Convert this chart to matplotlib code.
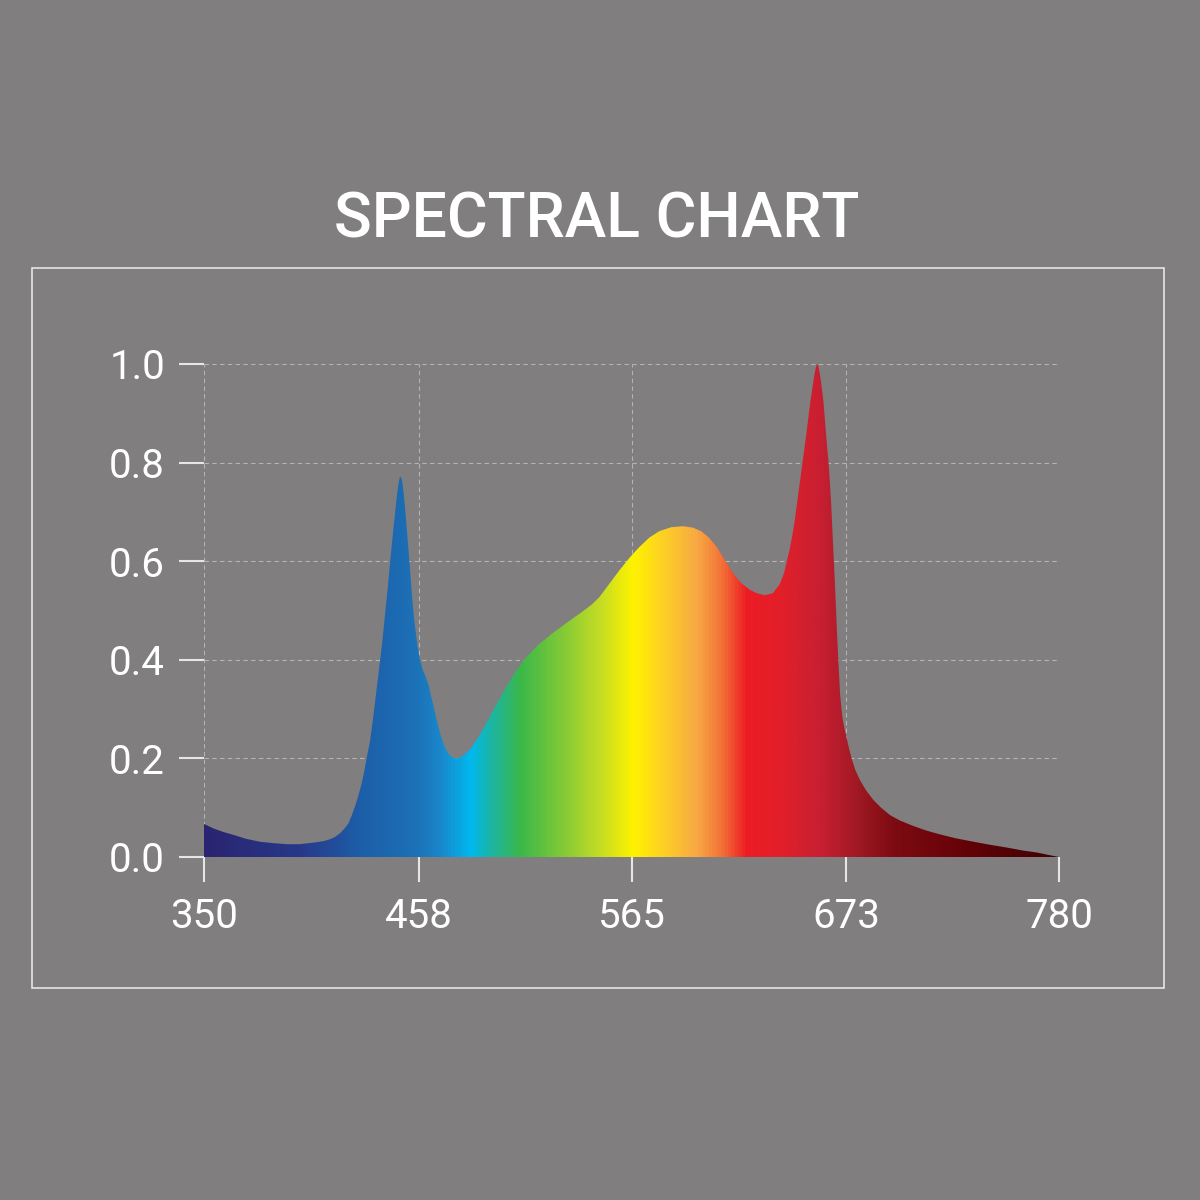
import numpy as np
import matplotlib
matplotlib.use('Agg')
import matplotlib.pyplot as plt
from matplotlib.colors import LinearSegmentedColormap, Normalize
from matplotlib.patches import Rectangle

# spectrum (nm, relative intensity)
wavelength = [350, 354.7, 359.5, 364.7, 371, 378, 385, 391.6, 398, 405, 410, 413.4, 416,
              418.4, 420.5, 422.6, 424.3, 425.9, 427.6, 429.3, 430.6, 432, 433.5, 435,
              436.5, 438, 439.5, 441, 442.5, 444, 445.5, 446.8, 447.8, 448.6, 449.6,
              450.5, 451.5, 452.5, 453.5, 454.5, 455.5, 456.5, 457.5, 458.6, 460, 461.5,
              463, 464, 465.5, 467, 469, 471, 473, 475, 477, 479, 481, 484, 488, 492,
              497, 502, 507, 512, 518, 525, 532, 539, 545, 549, 554, 559, 564, 569,
              574, 579, 585, 591, 596, 600, 604, 608, 612, 616, 620, 624.5, 628, 632,
              636, 639.5, 641, 642, 643, 644.5, 646, 647, 648, 649.5, 650.5, 651.5,
              653, 654, 655, 656, 657, 657.7, 658.3, 659, 659.8, 660.6, 661.5, 662.3,
              663, 664, 664.8, 665.5, 666.3, 667.3, 668.3, 669, 669.9, 671, 672, 673,
              674.3, 675.7, 677.5, 679.9, 683, 686.6, 690.5, 695, 700, 706.7, 713, 720,
              728, 737, 745, 754, 762, 769, 775, 780]
intensity = [0.067, 0.058, 0.051, 0.045, 0.037, 0.031, 0.028, 0.026, 0.026, 0.029,
             0.032, 0.036, 0.041, 0.048, 0.057, 0.068, 0.084, 0.102, 0.124, 0.149,
             0.174, 0.205, 0.235, 0.28, 0.33, 0.38, 0.43, 0.49, 0.55, 0.615, 0.675,
             0.725, 0.757, 0.773, 0.765, 0.735, 0.69, 0.64, 0.59, 0.535, 0.49, 0.455,
             0.425, 0.40, 0.38, 0.365, 0.348, 0.33, 0.305, 0.278, 0.247, 0.224, 0.209,
             0.202, 0.200, 0.202, 0.208, 0.219, 0.243, 0.271, 0.31, 0.345, 0.378, 0.405,
             0.43, 0.453, 0.474, 0.494, 0.512, 0.528, 0.555, 0.582, 0.607, 0.629, 0.648,
             0.661, 0.669, 0.671, 0.668, 0.661, 0.648, 0.628, 0.602, 0.576, 0.556,
             0.542, 0.535, 0.531, 0.535, 0.553, 0.568, 0.58, 0.598, 0.623, 0.655, 0.68,
             0.71, 0.755, 0.785, 0.815, 0.86, 0.893, 0.925, 0.952, 0.978, 0.993, 1.0,
             0.995, 0.978, 0.955, 0.925, 0.885, 0.85, 0.805, 0.758, 0.71, 0.64, 0.555,
             0.46, 0.40, 0.33, 0.285, 0.262, 0.245, 0.222, 0.200, 0.177, 0.156, 0.135,
             0.116, 0.100, 0.085, 0.074, 0.063, 0.054, 0.046, 0.038, 0.031, 0.025,
             0.019, 0.013, 0.009, 0.004, 0.0]

# colour of the fill along the wavelength axis
color_nm = [350, 398, 428, 457, 469, 484, 494, 509, 533, 549, 566, 581, 598, 611,
            623, 640, 661, 678, 698, 732, 765, 780]
color_hex = ['#2a2470', '#27398a', '#1d5ea8', '#1c72b8', '#1a88cc', '#00b9ef',
             '#1bb5a5', '#3bb84a', '#8ccc34', '#c4dc24', '#fff200', '#fdd024',
             '#f8a944', '#f37036', '#ed1c24', '#e21f2a', '#c71f32', '#a21a24',
             '#7d0b12', '#650308', '#4a0204', '#3f0203']

x_ticks = [350, 458, 565, 673, 780]
y_ticks = [0.0, 0.2, 0.4, 0.6, 0.8, 1.0]

bg = '#807e7e'
fg = '#e6e6e6'
plt.rcParams['font.family'] = ['Roboto', 'DejaVu Sans']

fig = plt.figure(figsize=(12, 12), dpi=100, facecolor=bg)
ax = fig.add_axes([204/1200, 1-857/1200, 855/1200, 493/1200])
ax.set_facecolor(bg)

lo, hi = color_nm[0], color_nm[-1]
cmap = LinearSegmentedColormap.from_list(
    'spec', [((c - lo)/(hi - lo), h) for c, h in zip(color_nm, color_hex)])

poly = ax.fill_between(wavelength, 0, intensity, facecolor='none', edgecolor='none')
grad = np.linspace(lo, hi, 1000).reshape(1, -1)
im = ax.imshow(grad, cmap=cmap, norm=Normalize(lo, hi), extent=[lo, hi, 0, 1],
               aspect='auto', interpolation='bilinear', zorder=2)
im.set_clip_path(poly.get_paths()[0], transform=ax.transData)

ax.set_xlim(350, 780)
ax.set_ylim(0, 1.0)
ax.set_xticks(x_ticks)
ax.set_yticks(y_ticks)
ax.set_yticklabels([f'{v:.1f}' for v in y_ticks])
for s in ax.spines.values():
    s.set_visible(False)
ax.set_axisbelow(True)
ax.grid(True, color='#b4b4b4', linestyle=(0, (4, 3)), linewidth=0.8)
ax.tick_params(colors=fg, length=18, width=1.5, labelsize=29, labelcolor='white')
ax.tick_params(axis='y', pad=10)
ax.tick_params(axis='x', pad=11)

fig.text(0.4975, 1-238/1200, 'SPECTRAL CHART', color='white', fontsize=45,
         fontweight='medium', ha='center', va='baseline')
fig.patches.append(Rectangle((32/1200, 1-988/1200), 1132/1200, 720/1200,
                             transform=fig.transFigure, fill=False,
                             edgecolor=fg, linewidth=1.2))

fig.savefig('out.png', dpi=100, facecolor=bg)
